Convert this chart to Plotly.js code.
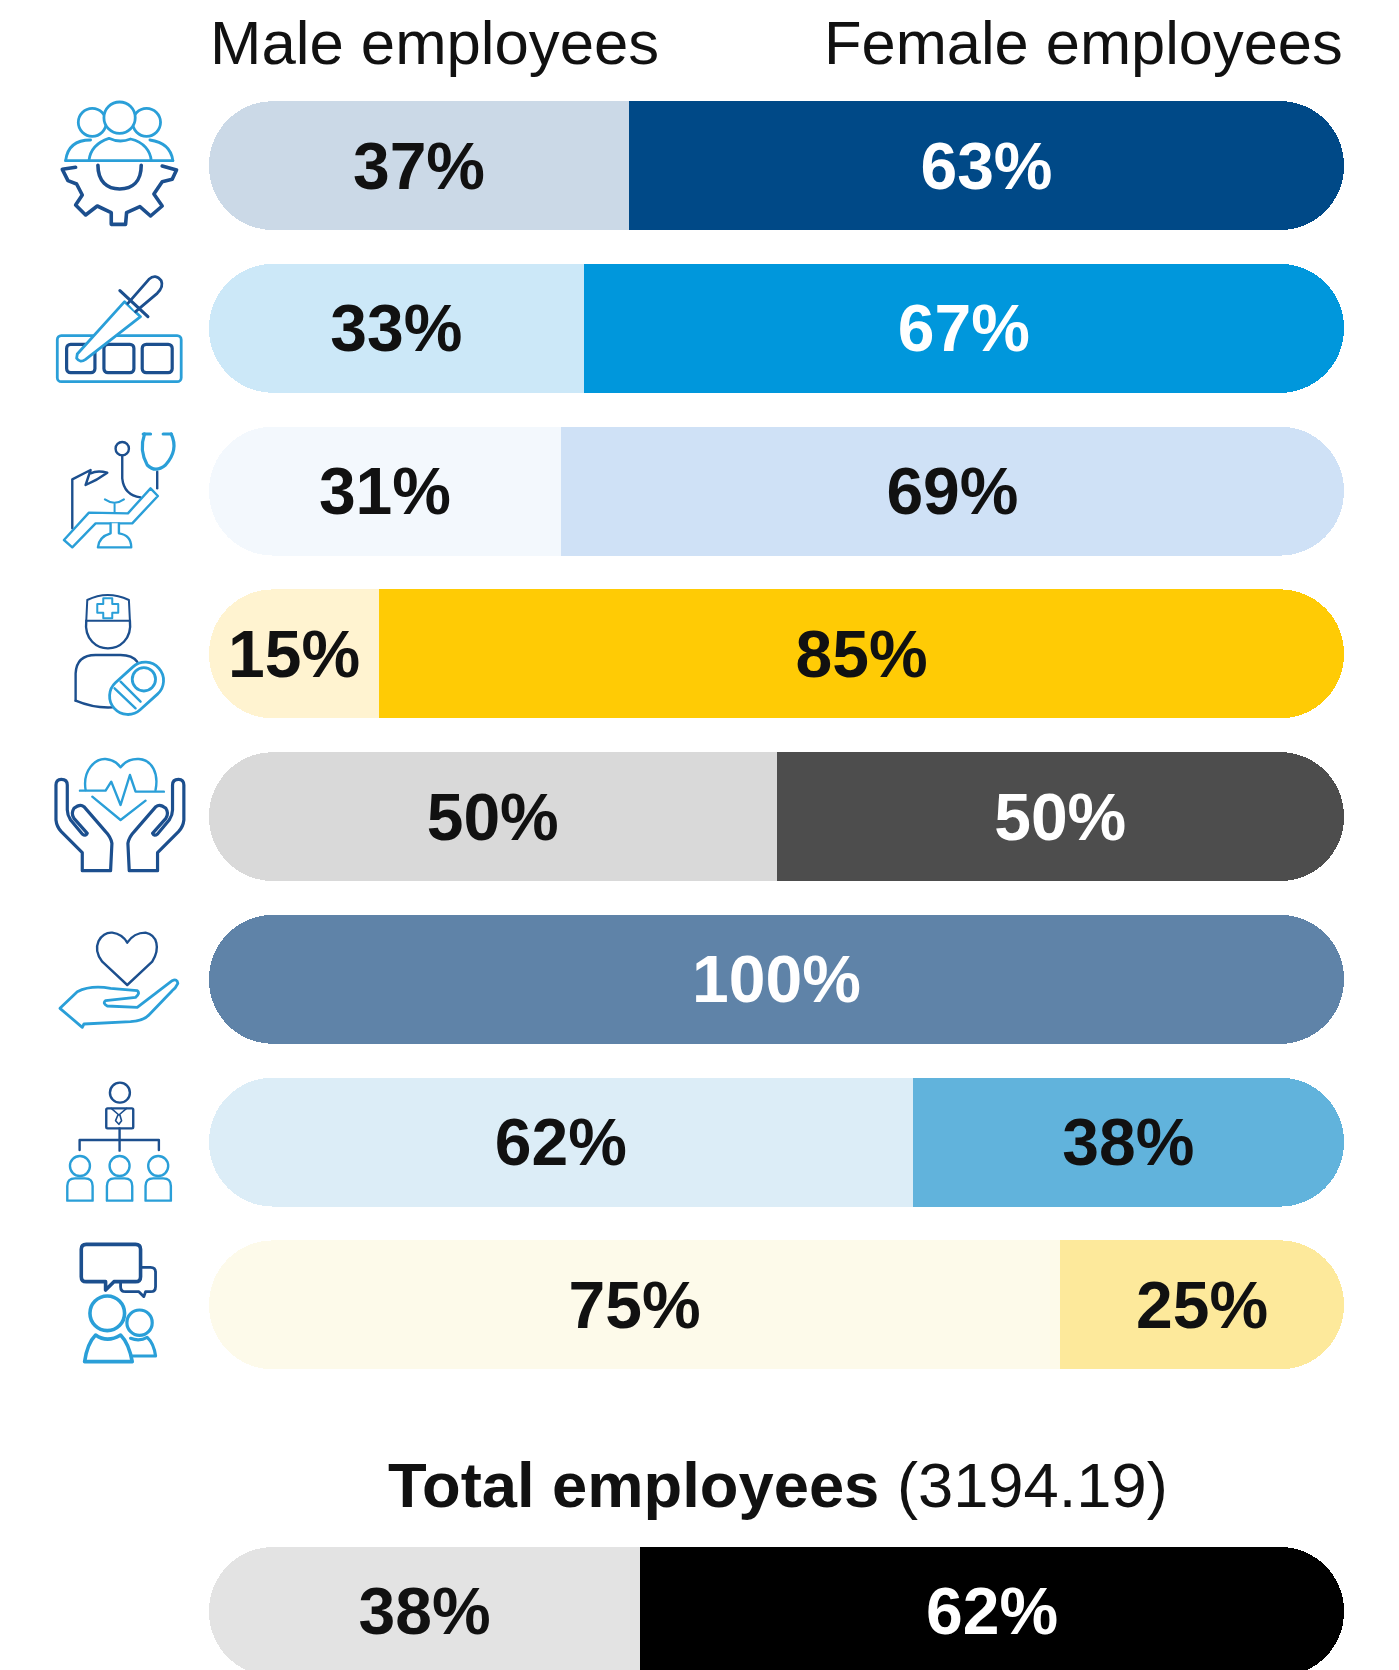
<!DOCTYPE html>
<html>
<head>
<meta charset="utf-8">
<script src="https://cdn.plot.ly/plotly-3.0.1.min.js"></script>
<style>html,body{margin:0;padding:0;background:#fff;overflow:hidden}#chart{width:1399px;height:1670px}</style>
</head>
<body>
<div id="chart"></div>
<script>
// ---- data ----
var rowPositions = [0, 1, 2, 3, 4, 5, 6, 7, 8.884];
var maleValues   = [37, 33, 31, 15, 50, 0, 62, 75, 38];
var femaleValues = [63, 67, 69, 85, 50, 100, 38, 25, 62];
var maleColors   = ['#cbd9e7', '#cce8f8', '#f3f8fd', '#fff3d0', '#d9d9d9', '#5f83a8', '#dcedf7', '#fdfaea', '#e3e3e3'];
var femaleColors = ['#004987', '#0097dc', '#cfe1f6', '#ffcb05', '#4d4d4d', '#5f83a8', '#61b3dc', '#fde99b', '#000000'];
var maleTextColors   = ['#111', '#111', '#111', '#111', '#111', '#111', '#111', '#111', '#111'];
var femaleTextColors = ['#fff', '#fff', '#111', '#111', '#fff', '#fff', '#111', '#111', '#fff'];
var headerMale = 'Male employees';
var headerFemale = 'Female employees';
var totalTitle = '<b>Total employees</b> (3194.19)';

// ---- page geometry ----
var W = 1399, H = 1670, plotL = 208.5, plotR = 1344.5;
var FONT = '"Liberation Sans", Arial, sans-serif';
var pct = function (v) { return v > 0 ? v + '%' : ''; };
var paperX = function (px) { return (px - plotL) / (plotR - plotL); };
var paperY = function (py) { return 1 - py / H; };
var BAR_W = 0.7926, Y_RANGE = [9.2436, -1.0175], LABEL_SIZE = 66;

// A rounded pill per row (rounded both ends) carries the male colour ...
var pillTrace = {
  type: 'bar', orientation: 'h', y: rowPositions,
  x: maleValues.map(function (m, i) { return m + femaleValues[i]; }),
  base: rowPositions.map(function () { return 0; }),
  width: BAR_W, yaxis: 'y', xaxis: 'x',
  marker: { color: maleColors, line: { width: 0 }, cornerradius: '50%' },
  hoverinfo: 'skip'
};
// ... and a stacked pair on an overlaid axis gives the flat-left, round-right female part.
var maleTrace = {
  type: 'bar', orientation: 'h', y: rowPositions, x: maleValues,
  width: BAR_W, yaxis: 'y2', xaxis: 'x',
  marker: { color: 'rgba(0,0,0,0)', line: { width: 0 } },
  text: maleValues.map(pct), textposition: 'inside', insidetextanchor: 'middle',
  textangle: 0, constraintext: 'none',
  textfont: { family: FONT, size: LABEL_SIZE, weight: 700, color: maleTextColors },
  hoverinfo: 'skip'
};
var femaleTrace = {
  type: 'bar', orientation: 'h', y: rowPositions, x: femaleValues,
  width: BAR_W, yaxis: 'y2', xaxis: 'x',
  marker: {
    color: femaleColors.map(function (c, i) { return maleValues[i] > 0 ? c : 'rgba(0,0,0,0)'; }),
    line: { width: 0 }, cornerradius: '50%'
  },
  text: femaleValues.map(pct), textposition: 'inside', insidetextanchor: 'middle',
  textangle: 0, constraintext: 'none',
  textfont: { family: FONT, size: LABEL_SIZE, weight: 700, color: femaleTextColors },
  hoverinfo: 'skip'
};

// ---- icons: decoration, drawn in the 450x960 space of a 150x320 page tile ----
var D = '#1c4f8e', L = '#2a9fd8', SW = 1.2;
function tile(body) {
  return 'data:image/svg+xml;charset=utf-8,' + encodeURIComponent(
    '<svg xmlns="http://www.w3.org/2000/svg" width="450" height="960" viewBox="0 0 450 960" fill="none" stroke-linejoin="round" stroke-linecap="round">' + body + '</svg>');
}
function p(d, c, w, f) { return '<path d="' + d + '" stroke="' + c + '" stroke-width="' + SW * (w || 7) + '" fill="' + (f || 'none') + '"/>'; }
function c(x, y, r, col, w) { return '<circle cx="' + x + '" cy="' + y + '" r="' + r + '" stroke="' + col + '" stroke-width="' + SW * (w || 7) + '" fill="#fff"/>'; }
function r(x, y, w, h, rx, col, sw) { return '<rect x="' + x + '" y="' + y + '" width="' + w + '" height="' + h + '" rx="' + rx + '" stroke="' + col + '" stroke-width="' + SW * (sw || 7) + '" fill="#fff"/>'; }

var tile1 =
  c(155, 97, 42, L) + c(318, 97, 42, L) + c(237, 83, 47, L) +
  p('M75,212 C80,170 105,150 150,150', L) + p('M397,212 C392,175 365,155 328,150', L) +
  p('M145,212 C150,165 190,150 205,145 Q237,160 270,147 C310,155 330,185 332,212', L, 7, '#fff') +
  p('M75,212 L397,212', L) +
  p('M172,226 C172,275 200,297 237,297 C275,297 302,275 302,226', D, 9) +
  p('M105,232 L65,238 L82,272 L108,282 L125,315 L105,345 L135,375 L170,348 L212,368 L212,403 L255,403 L258,368 L298,350 L330,378 L365,348 L340,312 L365,275 L395,268 L408,240 L365,228', D, 9) +
  r(50, 737, 372, 138, 12, L) +
  r(78, 763, 85, 85, 12, D, 8) + r(190, 763, 90, 85, 12, D, 8) + r(305, 763, 90, 85, 12, D, 8) +
  p('M110,792 L252,635 L300,680 L135,808 Q118,820 108,805 Z', L, 7, '#fff') +
  p('M262,640 L325,568 Q345,550 362,572 Q370,590 350,610 L285,665', D, 7, '#fff') +
  p('M238,602 L322,680', D, 8);

var tile2 =
  p('M95,325 L95,178 L150,150 L135,195 Q170,180 200,158 Q170,150 150,160', D, 6) +
  c(245, 86, 20, D, 6) + p('M245,106 L245,175 Q250,225 300,232', D, 6) + p('M350,155 L350,205', D, 6) +
  p('M312,42 Q295,90 320,135 Q345,160 375,135 Q415,90 392,42', L, 8) + p('M308,42 L330,42 M368,42 L392,42', L, 8) +
  p('M70,360 L145,278 L262,280 L330,205 L352,228 L275,310 L165,310 L95,382 Z', L, 6, '#fff') +
  p('M210,310 L210,340 Q175,350 172,382 L272,382 Q272,345 235,340 L235,310', L, 6, '#fff') +
  p('M193,238 Q222,258 250,238 M222,250 L222,278', L, 5) +
  p('M140,540 Q200,510 265,540 L268,602 L137,602 Z', D, 5) +
  p('M137,602 C130,660 170,685 202,685 C235,685 275,660 268,602', D, 6) +
  p('M188,535 L215,535 L215,552 L233,552 L233,578 L215,578 L215,595 L188,595 L188,578 L170,578 L170,552 L188,552 Z', L, 5) +
  p('M105,842 L105,760 Q108,705 165,705 L240,705 Q275,705 290,725', D, 6) + p('M105,842 Q160,865 215,862', D, 6) +
  '<g transform="rotate(-42 288 805)">' + r(198, 750, 180, 110, 55, L, 7) + '</g>' +
  c(310, 778, 35, L, 7) + p('M222,805 L285,865 M240,785 L300,845', L, 6);

var hand = 'M125,392 L210,392 L214,310 Q210,290 195,275 L130,200 Q118,190 100,205 Q90,220 100,235 L140,280 Q135,290 125,282 L90,240 Q80,225 80,210 L80,135 Q80,118 62,118 Q46,118 46,135 L46,240 Q48,260 62,275 L125,338 Z';
var tile3 =
  p('M135,150 C125,90 165,55 195,57 Q225,60 240,82 Q260,55 295,57 C335,60 355,100 345,150', L, 6) +
  p('M118,152 L195,152 L212,125 L240,195 L268,105 L285,155 L370,155', L, 6) +
  p('M155,170 L240,240 L315,182', L, 6) +
  p(hand, D, 8) + '<g transform="translate(476,0) scale(-1,1)">' + p(hand, D, 8) + '</g>' +
  p('M260,735 L185,665 C150,620 180,575 215,578 Q245,582 260,608 Q280,578 315,578 C350,585 360,625 335,665 Z', D, 6) +
  p('M58,805 L110,755 Q150,735 210,745 L290,752 Q300,760 285,772 L195,782 Q185,790 200,798 L290,802 L395,722 Q410,715 412,730 Q405,745 395,752 L325,825 Q310,842 270,845 L130,852 L125,862 Z', L, 7);

function person(x) {
  return c(x, 318, 30, L, 6) + p('M' + (x - 38) + ',422 L' + (x - 38) + ',378 Q' + (x - 38) + ',355 ' + (x - 15) + ',355 L' + (x + 15) + ',355 Q' + (x + 38) + ',355 ' + (x + 38) + ',378 L' + (x + 38) + ',422 Z', L, 6);
}
var tile4 =
  c(238, 98, 30, D, 6) + r(197, 145, 81, 60, 4, D, 6) +
  p('M212,145 L235,165 L258,145 M232,165 L225,182 L235,193 L243,182 L238,165', D, 4) +
  p('M237,205 L237,272 M117,270 L117,240 L355,240 L355,270', D, 6) +
  person(118) + person(237) + person(353) +
  p('M300,622 L330,622 Q345,622 345,637 L345,680 Q345,695 330,695 L315,695 L310,710 L295,695 L255,695 Q240,695 240,680 L240,668', D, 7) +
  p('M137,553 L285,553 Q300,553 300,568 L300,650 Q300,665 285,665 L220,665 L195,690 L195,665 L137,665 Q122,665 122,650 L122,568 Q122,553 137,553 Z', D, 9) +
  p('M275,888 L345,888 Q340,850 320,832 Q297,845 270,835', L, 8) + c(297, 788, 38, L, 8) +
  p('M132,905 Q140,850 165,825 Q200,850 240,825 Q265,850 275,905 Z', L, 9, '#fff') + c(200, 760, 52, L, 9);

var tiles = [[40, 90, tile1], [40, 420, tile2], [40, 740, tile3], [40, 1060, tile4]];
var images = tiles.map(function (t) {
  return {
    source: tile(t[2]), xref: 'paper', yref: 'paper',
    x: paperX(t[0]), y: paperY(t[1]),
    sizex: 150 / (plotR - plotL), sizey: 320 / H,
    xanchor: 'left', yanchor: 'top', sizing: 'stretch', layer: 'above'
  };
});

function label(txt, px, py, anchor, size) {
  return {
    text: txt, xref: 'paper', yref: 'paper', x: paperX(px), y: paperY(py),
    xanchor: anchor, yanchor: 'middle', showarrow: false,
    font: { family: FONT, size: size, color: '#111' }
  };
}

var layout = {
  width: W, height: H,
  margin: { l: plotL, r: W - plotR, t: 0, b: 0, pad: 0 },
  paper_bgcolor: '#fff', plot_bgcolor: 'rgba(0,0,0,0)',
  barmode: 'stack', showlegend: false, hovermode: false,
  xaxis: { range: [0, 100], visible: false, fixedrange: true },
  yaxis: { range: Y_RANGE, visible: false, fixedrange: true },
  yaxis2: { range: Y_RANGE, visible: false, fixedrange: true, overlaying: 'y' },
  images: images,
  annotations: [
    label(headerMale, 207, 42, 'left', 61.7),
    label(headerFemale, 1346, 42, 'right', 61.4),
    label(totalTitle, 778.5, 1485, 'center', 63.3)
  ]
};

Plotly.newPlot('chart', [pillTrace, maleTrace, femaleTrace], layout, { displayModeBar: false, staticPlot: true });
</script>
</body>
</html>
